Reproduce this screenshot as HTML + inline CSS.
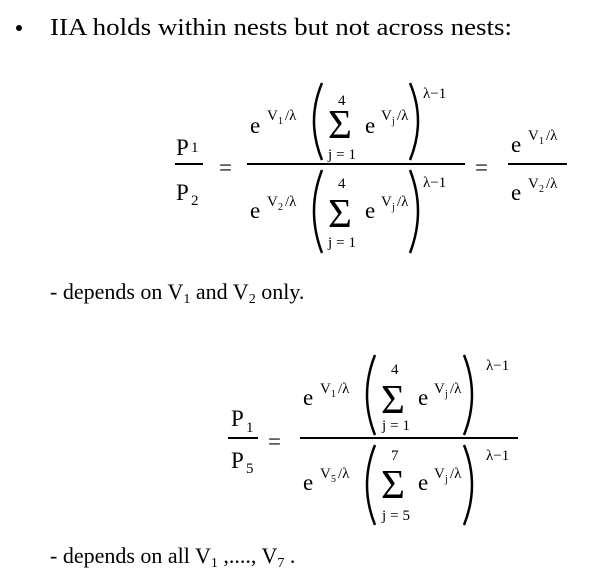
<!DOCTYPE html>
<html><head><meta charset="utf-8"><style>
html,body{margin:0;padding:0;background:#fff;}
svg{display:block;}
text{font-family:"Liberation Serif",serif;fill:#000;}
.m{font-size:23px;}
.s{font-size:15px;}
.t{font-size:10px;}
.sg{font-size:41px;}
</style></head><body>
<svg width="610" height="582" viewBox="0 0 610 582" xmlns="http://www.w3.org/2000/svg">
<circle cx="19" cy="28" r="3" fill="#000"/>
<text x="50" y="35" font-size="24" textLength="462" lengthAdjust="spacingAndGlyphs">IIA holds within nests but not across nests:</text>

<g stroke="#000" stroke-width="2" fill="none">
<line x1="175" y1="164" x2="203" y2="164"/>
<line x1="247" y1="164" x2="465" y2="164"/>
<line x1="508" y1="164" x2="567" y2="164"/>
<line x1="228" y1="438" x2="258" y2="438"/>
<line x1="300" y1="438" x2="518" y2="438"/>
</g>
<g stroke="#000" stroke-width="2.5" fill="none">
<path d="M322 83 Q306 121 322 160"/><path d="M410 83 Q426 121 410 160"/>
<path d="M322 170 Q306 211 322 253"/><path d="M410 170 Q426 211 410 253"/>
<path d="M375 355 Q359 395 375 435"/><path d="M464 355 Q480 395 464 435"/>
<path d="M375 445 Q359 485 375 525"/><path d="M464 445 Q480 485 464 525"/>
</g>
<text class="m" x="176" y="155">P</text><text class="s" x="191" y="152">1</text>
<text class="m" x="176" y="200">P</text><text class="s" x="191" y="205">2</text>
<text class="m" x="219" y="175">=</text>
<text class="m" x="250" y="133">e</text><text class="s" x="267" y="120">V</text><text class="t" x="278" y="124">1</text><text class="s" x="285" y="120">/λ</text>
<text class="sg" x="328" y="138">Σ</text><text class="s" x="338" y="105">4</text><text class="s" x="328" y="159" textLength="28">j=1</text>
<text class="m" x="365" y="133">e</text><text class="s" x="381" y="120">V</text><text class="t" x="392" y="124">j</text><text class="s" x="397" y="120">/λ</text>
<text class="s" x="423" y="98">λ−1</text>
<text class="m" x="250" y="218">e</text><text class="s" x="267" y="206">V</text><text class="t" x="278" y="210">2</text><text class="s" x="285" y="206">/λ</text>
<text class="sg" x="328" y="227">Σ</text><text class="s" x="338" y="188">4</text><text class="s" x="328" y="247" textLength="28">j=1</text>
<text class="m" x="365" y="218">e</text><text class="s" x="381" y="206">V</text><text class="t" x="392" y="210">j</text><text class="s" x="397" y="206">/λ</text>
<text class="s" x="423" y="187">λ−1</text>
<text class="m" x="475" y="175">=</text>
<text class="m" x="511" y="152">e</text><text class="s" x="528" y="140">V</text><text class="t" x="539" y="144">1</text><text class="s" x="546" y="140">/λ</text>
<text class="m" x="511" y="200">e</text><text class="s" x="528" y="188">V</text><text class="t" x="539" y="192">2</text><text class="s" x="546" y="188">/λ</text>

<text x="50" y="299" font-size="22">- depends on V<tspan font-size="14" dy="4">1</tspan><tspan dy="-4"> and V</tspan><tspan font-size="14" dy="4">2</tspan><tspan dy="-4"> only.</tspan></text>

<text class="m" x="231" y="426">P</text><text class="s" x="246" y="432">1</text>
<text class="m" x="231" y="468">P</text><text class="s" x="246" y="473">5</text>
<text class="m" x="268" y="449">=</text>
<text class="m" x="303" y="405">e</text><text class="s" x="320" y="393">V</text><text class="t" x="331" y="397">1</text><text class="s" x="338" y="393">/λ</text>
<text class="sg" x="381" y="413">Σ</text><text class="s" x="391" y="374">4</text><text class="s" x="382" y="430" textLength="28">j=1</text>
<text class="m" x="418" y="405">e</text><text class="s" x="434" y="393">V</text><text class="t" x="445" y="397">j</text><text class="s" x="450" y="393">/λ</text>
<text class="s" x="486" y="370">λ−1</text>
<text class="m" x="303" y="490">e</text><text class="s" x="320" y="478">V</text><text class="t" x="331" y="482">5</text><text class="s" x="338" y="478">/λ</text>
<text class="sg" x="381" y="498">Σ</text><text class="s" x="391" y="460">7</text><text class="s" x="382" y="520" textLength="28">j=5</text>
<text class="m" x="418" y="490">e</text><text class="s" x="434" y="478">V</text><text class="t" x="445" y="482">j</text><text class="s" x="450" y="478">/λ</text>
<text class="s" x="486" y="460">λ−1</text>

<text x="50" y="563" font-size="22">- depends on all V<tspan font-size="14" dy="4">1</tspan><tspan dy="-4"> ,...., V</tspan><tspan font-size="14" dy="4">7</tspan><tspan dy="-4"> .</tspan></text>
</svg>
</body></html>
